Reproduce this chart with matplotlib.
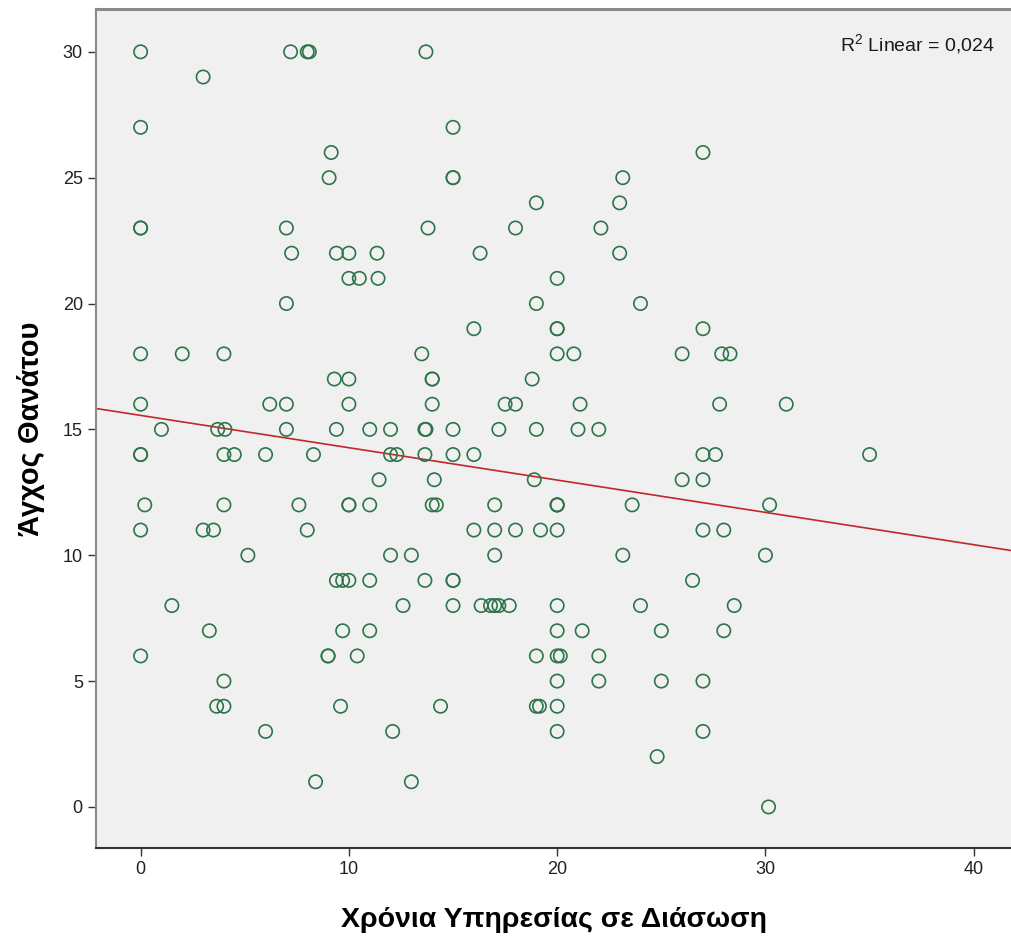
import numpy as np
import matplotlib.pyplot as plt

# Χρόνια υπηρεσίας (x) και βαθμολογία άγχους θανάτου (y), ανά γραμμή τιμής y
years = [
    0, 7.2, 8.0, 8.1, 13.7,                      # 30
    3.0,                                         # 29
    0, 15.0,                                     # 27
    9.15, 27.0,                                  # 26
    9.05, 15.0, 15.0, 23.15,                     # 25
    19.0, 23.0,                                  # 24
    0, 0, 7.0, 13.8, 18.0, 22.1,                 # 23
    7.25, 9.4, 10.0, 11.35, 16.3, 23.0,          # 22
    10.0, 10.5, 11.4, 20.0,                      # 21
    7.0, 19.0, 24.0,                             # 20
    16.0, 20.0, 20.0, 27.0,                      # 19
    0, 2.0, 4.0, 13.5, 20.0, 20.8, 26.0, 27.9, 28.3,            # 18
    9.3, 10.0, 14.0, 14.0, 18.8,                                # 17
    0, 6.2, 7.0, 10.0, 14.0, 17.5, 18.0, 21.1, 27.8, 31.0,      # 16
    1.0, 3.7, 4.05, 7.0, 9.4, 11.0, 12.0, 13.65, 13.7, 15.0,
    17.2, 19.0, 21.0, 22.0,                                     # 15
    0, 0, 4.0, 4.5, 6.0, 8.3, 12.0, 12.3, 13.65, 15.0,
    16.0, 27.0, 27.6, 35.0,                                     # 14
    11.45, 14.1, 18.9, 26.0, 27.0,                              # 13
    0.2, 4.0, 7.6, 10.0, 10.0, 11.0, 14.0, 14.2, 17.0, 20.0,
    20.0, 20.0, 23.6, 30.2,                                     # 12
    0, 3.0, 3.5, 8.0, 16.0, 17.0, 18.0, 19.2, 20.0, 27.0, 28.0, # 11
    5.15, 12.0, 13.0, 17.0, 23.15, 30.0,                        # 10
    9.4, 9.7, 10.0, 11.0, 13.65, 15.0, 15.0, 26.5,              # 9
    1.5, 12.6, 15.0, 16.35, 16.8, 17.0, 17.2, 17.7, 20.0, 24.0, 28.5,  # 8
    3.3, 9.7, 11.0, 20.0, 21.2, 25.0, 28.0,                     # 7
    0, 9.0, 9.0, 10.4, 19.0, 20.0, 20.15, 22.0,                 # 6
    4.0, 20.0, 22.0, 25.0, 27.0,                                # 5
    3.65, 4.0, 9.6, 14.4, 19.0, 19.15, 20.0,                    # 4
    6.0, 12.1, 20.0, 27.0,                                      # 3
    24.8,                                                       # 2
    8.4, 13.0,                                                  # 1
    30.15,                                                      # 0
]
counts = [5, 1, 2, 2, 4, 2, 6, 6, 4, 3, 4, 9, 5, 10, 14, 14, 5, 14, 11, 6, 8, 11, 7, 8, 5, 7, 4, 1, 2, 1]
levels = [30, 29, 27, 26, 25, 24, 23, 22, 21, 20, 19, 18, 17, 16, 15, 14, 13, 12, 11, 10, 9, 8, 7, 6, 5, 4, 3, 2, 1, 0]
anxiety = [lv for lv, n in zip(levels, counts) for _ in range(n)]

x_ticks = [0, 10, 20, 30, 40]
y_ticks = [0, 5, 10, 15, 20, 25, 30]
r2_label = "0,024"

x = np.array(years)
y = np.array(anxiety)

plt.rcParams['font.family'] = ['Liberation Sans', 'DejaVu Sans']
plt.rcParams['mathtext.fontset'] = 'custom'
plt.rcParams['mathtext.rm'] = 'Liberation Sans'

fig = plt.figure(figsize=(10.11, 9.4), dpi=100)
ax = fig.add_axes([0.095, 0.0979, 0.905, 0.8925])
ax.set_facecolor('#f0f0f0')

xmin, xmax = -2.14, 41.79
ax.set_xlim(xmin, xmax)
ax.set_ylim(-1.63, 31.70)

ax.scatter(x, y, s=92, facecolors='none', edgecolors='#2d7549', linewidths=1.2, zorder=3)

# γραμμή παλινδρόμησης
slope, intercept = np.polyfit(x, y, 1)
xs = np.array([xmin, xmax])
ax.plot(xs, intercept + slope * xs, color='#c0282c', lw=1.2, zorder=2)

ax.text(0.982, 0.957, r"R$^2$ Linear = " + r2_label, transform=ax.transAxes,
        ha='right', va='center', fontsize=14, color='#1a1a1a')

ax.set_xticks(x_ticks)
ax.set_yticks(y_ticks)
ax.tick_params(labelsize=13, length=6, width=1, colors='#333333', labelcolor='#222222')
ax.spines['right'].set_visible(False)
ax.spines['top'].set_color('#8a8a8a')
ax.spines['top'].set_linewidth(2.2)
ax.spines['left'].set_color('#8a8a8a')
ax.spines['left'].set_linewidth(1.5)
ax.spines['bottom'].set_color('#333333')
ax.spines['bottom'].set_linewidth(1.5)

ax.set_xlabel('Χρόνια Υπηρεσίας σε Διάσωση', fontsize=20.5, fontweight='bold', labelpad=21)
ax.set_ylabel('Άγχος Θανάτου', fontsize=21, fontweight='bold', labelpad=13)

fig.savefig('out.png', dpi=100)
